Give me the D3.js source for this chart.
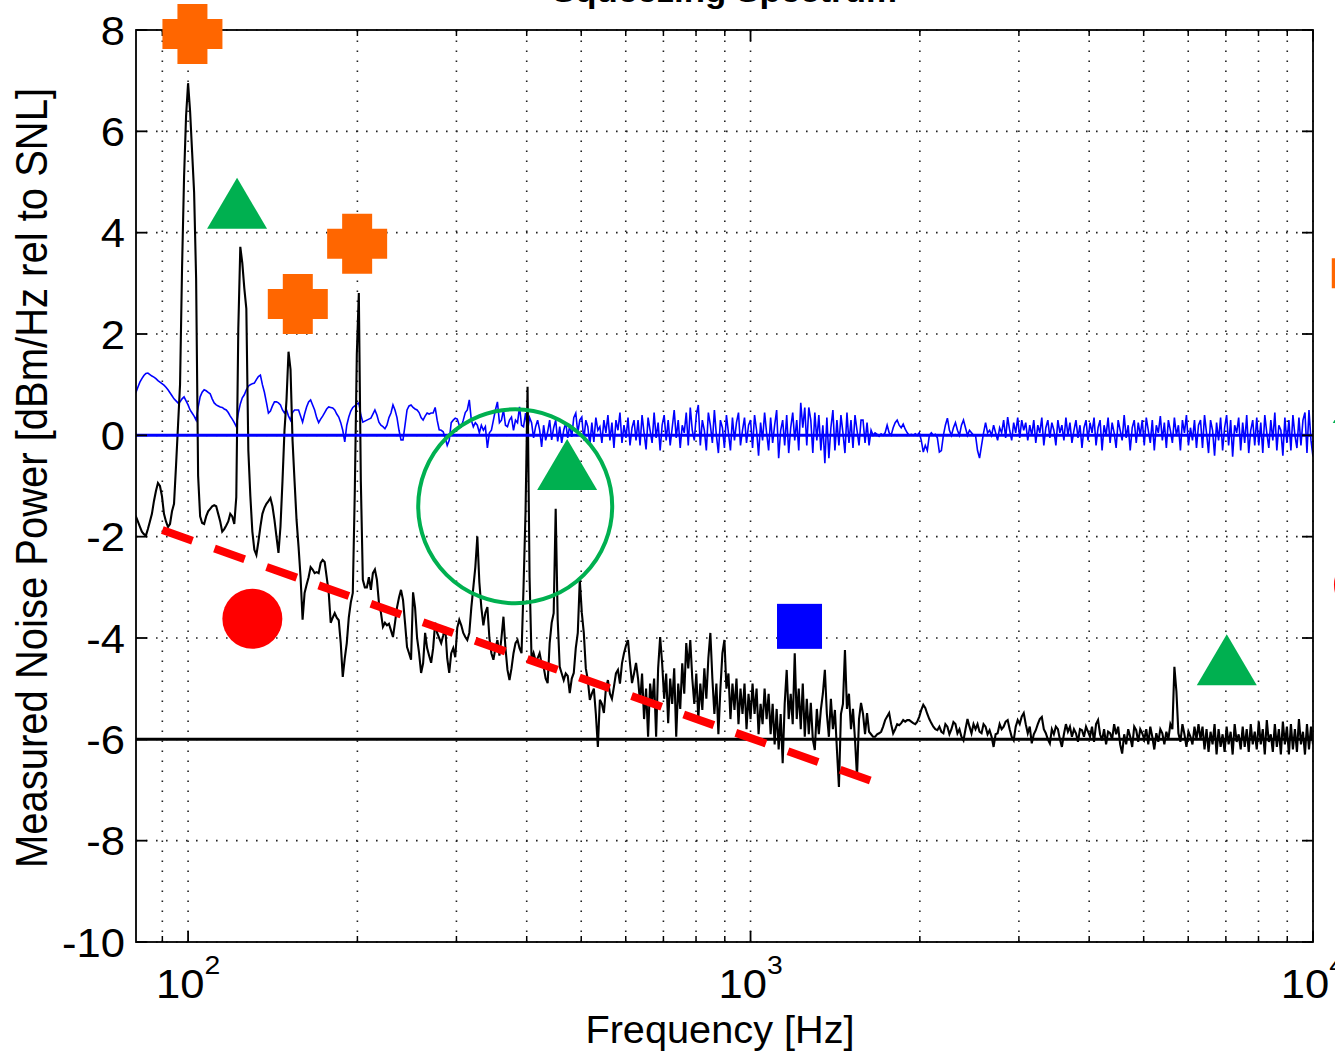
<!DOCTYPE html>
<html><head><meta charset="utf-8">
<script src="https://cdn.jsdelivr.net/npm/d3@7"></script>
<style>html,body{margin:0;padding:0;background:#fff;overflow:hidden}</style>
</head><body>
<svg id="chart" width="1335" height="1055"></svg>
<script>
// ---------------- DATA ----------------
// Frequency grid of the traces: log-spaced bins starting at 10^1.9 Hz, 280 bins per decade
const gridStartLog10 = 1.9;
const binsPerDecade = 280;

// Squeezed noise trace (black), dB rel. to SNL, one row = 0.1 decade
const blackDb = [
 -1.6,-1.6,-1.6,-1.7,-1.8,-1.9,-1.95,-1.98,-1.85,-1.7,-1.55,-1.3,-1.1,-0.94,-1.0,-1.2,-1.55,-1.7,-1.81,-1.75,-1.5,-1.35,-0.6,0.2,1.0,3.3,5.1,6.3,
 6.95,6.4,5.6,4.8,3.1,-0.8,-1.6,-1.73,-1.75,-1.6,-1.5,-1.45,-1.4,-1.38,-1.4,-1.55,-1.7,-1.9,-1.85,-1.78,-1.7,-1.55,-1.6,-1.75,-1.22,2.1,3.72,3.4,
 2.9,2.5,-0.3,-1.2,-1.9,-2.26,-2.36,-2.1,-1.8,-1.55,-1.43,-1.35,-1.3,-1.24,-1.4,-1.67,-2.0,-2.32,-1.8,-0.9,0.1,0.7,1.65,1.3,-0.1,-0.9,-1.67,-2.2,
 -2.8,-3.64,-3.11,-2.95,-2.8,-2.6,-2.65,-2.72,-2.7,-2.72,-2.52,-2.46,-2.5,-2.8,-3.1,-3.7,-3.6,-3.51,-3.6,-3.65,-4.1,-4.77,-4.4,-4.1,-3.6,-3.3,-3.11,-1.1,
 1.6,2.81,-0.9,-2.85,-3.0,-3.0,-2.8,-3.05,-2.72,-2.65,-2.85,-3.3,-3.5,-3.78,-3.7,-3.75,-3.72,-3.85,-3.98,-3.7,-3.4,-3.2,-3.05,-3.25,-3.7,-4.18,-4.3,-4.43,
 -3.1,-3.4,-4.0,-4.3,-4.69,-4.5,-3.9,-4.2,-4.35,-4.49,-4.2,-3.7,-3.9,-4.0,-4.1,-3.95,-3.78,-4.4,-4.69,-4.3,-4.2,-4.38,-3.8,-3.64,-3.75,-3.9,-3.98,-4.04,
 -3.9,-3.4,-3.0,-2.6,-2.0,-2.9,-3.4,-3.75,-3.5,-3.39,-4.0,-4.3,-4.43,-4.2,-4.04,-4.35,-4.0,-3.58,-4.2,-4.63,-4.83,-4.6,-4.3,-4.1,-4.04,-4.2,-4.3,-2.99,
 -1.5,0.96,-2.8,-4.43,-4.3,-4.45,-4.4,-4.3,-4.5,-4.57,-4.8,-4.89,-4.1,-3.7,-3.51,-1.45,-3.64,-4.57,-4.7,-4.83,-4.7,-4.75,-5.09,-4.8,-4.69,-4.2,-3.9,-2.85,
 -3.5,-3.9,-4.6,-4.83,-5.22,-5.1,-5.0,-5.5,-6.15,-5.22,-5.3,-5.48,-5.0,-4.83,-5.1,-5.2,-4.96,-4.7,-4.63,-4.9,-4.5,-4.3,-4.15,-4.04,-4.5,-4.89,-4.7,-4.49,
 -4.8,-5.28,-4.7,-5.6,-5.0,-5.95,-4.9,-5.3,-4.8,-5.95,-4.6,-3.98,-4.5,-5.2,-4.7,-5.68,-4.8,-5.3,-4.6,-5.95,-4.9,-5.4,-4.5,-5.1,-4.1,-4.6,-4.04,-4.8,
 -5.3,-4.7,-5.6,-4.9,-5.42,-4.6,-5.2,-4.4,-3.9,-4.8,-5.5,-4.9,-5.9,-5.0,-4.3,-4.04,-5.0,-4.7,-5.6,-4.9,-5.42,-4.8,-5.7,-5.0,-5.5,-4.9,-5.8,-5.1,
 -5.6,-4.9,-5.5,-5.0,-5.9,-5.3,-5.7,-5.0,-5.6,-5.1,-5.9,-5.3,-6.1,-5.4,-6.2,-5.5,-6.47,-5.3,-4.63,-5.6,-5.1,-5.7,-4.3,-5.6,-5.0,-5.8,-4.9,-5.95,
 -5.2,-5.9,-5.28,-6.0,-6.21,-5.4,-5.9,-5.42,-5.1,-4.63,-5.5,-5.95,-5.2,-5.8,-5.42,-6.2,-6.94,-5.5,-5.3,-4.24,-5.4,-5.1,-5.8,-5.4,-6.0,-6.74,-5.6,-5.28,
 -5.5,-5.9,-5.48,-5.85,-5.9,-5.95,-5.95,-5.9,-5.88,-5.85,-5.75,-5.62,-5.55,-5.48,-5.7,-5.88,-5.8,-5.7,-5.72,-5.68,-5.62,-5.65,-5.62,-5.62,-5.65,-5.68,-5.7,-5.65,
 -5.55,-5.42,-5.32,-5.38,-5.5,-5.6,-5.68,-5.75,-5.8,-5.82,-5.75,-5.85,-5.88,-5.7,-5.75,-5.9,-5.8,-5.66,-5.7,-5.88,-5.8,-5.95,-6.02,-5.8,-5.6,-5.75,-5.88,-5.7,
 -5.8,-5.7,-5.85,-5.88,-5.7,-5.75,-5.9,-5.82,-5.95,-6.15,-5.9,-5.88,-5.7,-5.8,-5.75,-5.65,-5.62,-5.8,-5.95,-6.02,-5.75,-5.62,-5.7,-5.55,-5.48,-5.7,-5.88,-5.75,
 -6.08,-5.9,-5.82,-5.7,-5.6,-5.56,-5.8,-5.88,-6.0,-6.08,-5.8,-5.9,-5.75,-5.8,-6.0,-6.15,-5.9,-5.7,-5.85,-5.75,-5.95,-5.8,-5.88,-6.05,-5.8,-5.82,-5.95,-5.75,
 -5.85,-5.95,-5.75,-6.05,-5.7,-5.62,-5.9,-6.02,-5.8,-6.1,-5.85,-5.88,-6.0,-5.7,-5.9,-5.75,-6.1,-6.28,-5.9,-6.1,-5.8,-5.95,-6.15,-5.75,-5.82,-6.05,-5.8,-5.88,
 -6.0,-5.8,-6.1,-5.75,-5.95,-6.2,-5.88,-6.05,-5.8,-5.88,-6.1,-5.85,-6.0,-5.7,-5.8,-4.57,-5.05,-5.88,-6.05,-5.7,-5.9,-6.15,-5.85,-5.95,-6.1,-5.75,-6.0,-5.7,
 -6.0,-5.75,-6.2,-5.8,-6.25,-5.85,-6.1,-5.7,-6.3,-5.8,-6.15,-5.9,-6.25,-5.75,-6.1,-5.85,-6.3,-5.7,-6.05,-5.9,-6.2,-5.75,-6.15,-5.8,-6.25,-5.7,-6.1,-5.85,
 -6.2,-5.65,-6.1,-5.8,-6.3,-5.62,-6.05,-5.9,-6.25,-5.7,-6.15,-5.8,-6.3,-5.65,-6.1,-5.75,-6.3,-5.7,-6.2,-5.8,-6.25,-5.6,-6.1,-5.85,-6.3,-5.7,-6.2,-5.75,
 -6.1
];

// Anti-squeezing / shot-noise reference trace (blue)
const blueDb = [
 0.8,0.82,0.84,0.95,1.05,1.12,1.18,1.22,1.23,1.2,1.17,1.15,1.12,1.08,1.05,1.02,0.99,0.95,0.9,0.84,0.78,0.72,0.68,0.64,0.66,0.72,0.76,0.68,
 0.6,0.5,0.44,0.38,0.3,0.55,0.76,0.85,0.9,0.88,0.85,0.82,0.72,0.64,0.6,0.58,0.56,0.55,0.52,0.5,0.45,0.38,0.32,0.25,0.17,0.44,0.62,0.74,
 0.8,0.9,0.97,1.0,1.02,1.03,1.1,1.16,1.19,1.0,0.85,0.65,0.44,0.48,0.58,0.66,0.66,0.64,0.6,0.5,0.44,0.5,0.38,0.3,0.45,0.5,0.5,0.5,
 0.38,0.26,0.42,0.56,0.66,0.7,0.6,0.5,0.35,0.25,0.32,0.38,0.45,0.52,0.56,0.55,0.54,0.5,0.42,0.36,0.25,0.1,-0.13,0.2,0.36,0.48,0.55,0.58,
 0.62,0.64,0.4,0.26,0.28,0.3,0.32,0.34,0.42,0.5,0.4,0.26,0.2,0.17,0.13,0.2,0.35,0.44,0.6,0.5,0.35,0.1,-0.09,-0.09,0.2,0.5,0.58,0.6,
 0.55,0.52,0.5,0.45,0.35,0.3,0.38,0.44,0.42,0.44,0.44,0.55,0.3,0.11,0.1,0.07,-0.05,-0.2,-0.1,0.25,0.3,0.34,0.32,0.2,0.17,0.3,0.45,0.5,
 0.7,0.3,0.17,0.25,0.2,0.05,0.2,0.1,0.17,-0.25,0.05,0.1,0.3,0.5,0.66,0.25,0.3,0.5,0.2,0.17,0.3,0.36,0.1,0.3,0.25,0.56,0.2,0.17,
 0.44,0.1,0.35,0.25,-0.05,0.17,0.3,0.11,-0.23,0.2,-0.1,0.07,0.3,-0.09,0.15,0.3,-0.12,0.17,-0.15,0.1,0.25,-0.05,0.2,-0.03,0.35,0.44,0.05,0.3,
 0.36,-0.1,0.3,0.17,-0.2,0.25,-0.13,0.35,0.1,0.17,-0.15,0.3,0.05,0.4,-0.1,0.25,-0.25,0.3,0.1,0.45,-0.15,0.2,-0.05,0.35,-0.2,0.15,0.3,-0.1,
 0.3,-0.2,0.4,0.05,-0.28,0.35,0.1,-0.15,0.45,-0.05,0.25,-0.3,0.2,0.4,-0.1,0.3,-0.2,0.15,0.5,-0.05,0.3,-0.25,0.2,0.05,0.45,-0.2,0.55,0.1,
 -0.1,0.4,0.6,-0.2,0.3,0.1,-0.3,0.45,0.2,-0.15,0.5,0.0,-0.35,0.3,0.15,-0.25,0.4,0.05,-0.3,0.35,-0.1,0.25,0.45,-0.2,0.1,0.35,-0.15,0.2,
 0.3,-0.25,0.4,0.1,-0.4,0.25,-0.1,0.45,0.05,-0.3,0.35,-0.15,0.2,0.5,-0.45,0.1,0.3,-0.2,0.4,-0.35,0.15,0.45,-0.1,0.3,-0.3,0.64,0.15,0.55,
 -0.2,0.55,0.3,-0.35,0.45,-0.1,0.4,-0.3,0.2,-0.55,0.35,-0.45,0.15,0.5,-0.3,0.3,-0.2,0.4,0.05,-0.35,0.45,-0.15,0.3,-0.25,0.4,0.1,-0.2,0.3,
 0.3,-0.15,0.25,-0.2,0.1,0.0,0.05,0.02,-0.02,0.03,0.0,0.05,0.2,0.05,0.0,0.15,0.25,0.3,0.2,0.15,0.22,0.12,0.05,0.0,0.02,0.0,0.03,0.0,
 0.05,-0.1,-0.33,-0.2,-0.3,0.0,0.05,0.0,0.02,-0.05,-0.33,-0.3,0.0,0.2,0.34,0.1,0.0,0.15,0.25,0.1,0.0,0.2,0.3,0.15,0.0,0.1,0.05,0.0,
 0.0,-0.3,-0.45,-0.2,0.05,0.25,0.05,0.1,0.0,0.2,0.05,-0.1,0.15,0.05,0.3,-0.05,0.36,0.1,-0.1,0.25,0.05,0.35,-0.05,0.3,0.1,0.25,-0.1,0.2,
 0.0,0.3,-0.15,0.2,0.05,0.35,-0.2,0.15,0.3,-0.05,0.25,0.1,-0.2,0.3,0.05,0.2,-0.1,0.35,0.0,0.25,-0.15,0.1,0.3,-0.05,0.2,-0.25,0.15,0.3,
 -0.1,0.25,0.05,0.35,-0.2,0.15,0.3,-0.3,0.2,0.0,0.35,-0.15,0.25,0.05,-0.25,0.3,0.1,-0.1,0.4,-0.05,0.2,-0.3,0.15,0.3,-0.15,0.25,0.0,0.3,
 -0.2,0.35,0.1,-0.15,0.3,-0.3,0.2,0.05,0.38,-0.1,0.25,-0.25,0.3,0.1,-0.15,0.35,0.0,0.2,-0.3,0.3,0.05,0.4,-0.2,0.15,-0.1,0.3,-0.25,0.2,
 0.3,-0.25,0.4,0.05,-0.35,0.3,0.1,-0.4,0.25,-0.1,0.35,-0.3,0.15,0.4,-0.2,0.3,-0.42,0.2,0.05,0.35,-0.3,0.25,-0.15,0.4,-0.35,0.1,0.3,-0.2,
 0.35,-0.2,0.25,-0.35,0.4,0.05,-0.25,0.3,-0.1,0.45,-0.3,0.2,0.1,-0.4,0.35,-0.15,0.3,-0.3,0.4,0.0,-0.25,0.35,-0.2,0.3,0.45,-0.35,0.5,-0.1,
 -0.42
];

// Reference levels
const snlLevel = 0;       // blue horizontal line
const squeezeLevel = -6;  // black horizontal line

// Axes
const xDomain = [80.8, 10000];
const yDomain = [-10, 8];
const xMajorTicks = [100, 1000, 10000];
const xMajorExponents = ["2", "3", "4"];
const xMinorTicks = [90, 200, 300, 400, 500, 600, 700, 800, 900, 2000, 3000, 4000, 5000, 6000, 7000, 8000, 9000];
const yTicks = [-10, -8, -6, -4, -2, 0, 2, 4, 6, 8];
const titleText = "Squeezing Spectrum";
const xLabelText = "Frequency [Hz]";
const yLabelText = "Measured Noise Power [dBm/Hz rel to SNL]";

// Annotation markers [frequency Hz, dB]
const crossMarks = [[101.8, 7.92], [156.7, 2.59], [199.8, 3.78], [12210, 3.2]];
const triangleMarks = [[122.2, 4.58], [472, -0.575], [7026, -4.43], [12260, 0.747]];
const circleMarks = [[130.1, -3.62], [12320, -2.95]];
const squareMarks = [[1222, -3.77]];
const ringMarks = [[381.6, -1.40]];
const trendLine = [[90, -1.87], [1700, -6.88]];

// ---------------- DRAW ----------------
const W = 1335, H = 1055;
const plot = {left: 136, right: 1313, top: 30, bottom: 942};
const svg = d3.select("#chart");
const FONT = "'Liberation Sans', Arial, Helvetica, sans-serif";
const SX = 1.09; // horizontal stretch of the original figure text

const x = d3.scaleLog().domain(xDomain).range([plot.left, plot.right]);
const y = d3.scaleLinear().domain(yDomain).range([plot.bottom, plot.top]);
const freqOf = i => Math.pow(10, gridStartLog10 + i / binsPerDecade);

svg.append("rect").attr("width", W).attr("height", H).attr("fill", "#fff");

svg.append("defs").append("clipPath").attr("id", "plotclip")
  .append("rect").attr("x", plot.left).attr("y", plot.top)
  .attr("width", plot.right - plot.left).attr("height", plot.bottom - plot.top);

// grid
const grid = svg.append("g").attr("stroke", "#222").attr("stroke-width", 1.6)
  .attr("stroke-dasharray", "1.6 8.4").attr("fill", "none");
xMinorTicks.concat(xMajorTicks).forEach(t => {
  grid.append("line").attr("x1", x(t)).attr("x2", x(t))
    .attr("y1", plot.bottom).attr("y2", plot.top);
});
yTicks.forEach(t => {
  grid.append("line").attr("x1", plot.left).attr("x2", plot.right)
    .attr("y1", y(t)).attr("y2", y(t));
});

// traces
const dataG = svg.append("g").attr("clip-path", "url(#plotclip)");
const lineGen = d3.line().x((d, i) => x(freqOf(i))).y(d => y(d));
dataG.append("path").datum(blueDb).attr("d", lineGen)
  .attr("fill", "none").attr("stroke", "#0000ff").attr("stroke-width", 1.6)
  .attr("stroke-linejoin", "miter");
dataG.append("path").datum(blackDb).attr("d", lineGen)
  .attr("fill", "none").attr("stroke", "#000").attr("stroke-width", 2.1)
  .attr("stroke-linejoin", "miter");
dataG.append("line").attr("x1", plot.left).attr("x2", plot.right)
  .attr("y1", y(snlLevel)).attr("y2", y(snlLevel))
  .attr("stroke", "#0000ff").attr("stroke-width", 3);
dataG.append("line").attr("x1", plot.left).attr("x2", plot.right)
  .attr("y1", y(squeezeLevel)).attr("y2", y(squeezeLevel))
  .attr("stroke", "#000").attr("stroke-width", 3);

// frame & ticks
const axG = svg.append("g").attr("stroke", "#000").attr("fill", "none");
axG.append("rect").attr("x", plot.left).attr("y", plot.top)
  .attr("width", plot.right - plot.left).attr("height", plot.bottom - plot.top)
  .attr("stroke-width", 1.8);
const tick = (x1, y1, x2, y2, w) => axG.append("line")
  .attr("x1", x1).attr("y1", y1).attr("x2", x2).attr("y2", y2).attr("stroke-width", w);
xMajorTicks.forEach(t => {
  tick(x(t), plot.bottom, x(t), plot.bottom - 11, 1.8);
  tick(x(t), plot.top, x(t), plot.top + 11, 1.8);
});
xMinorTicks.forEach(t => {
  tick(x(t), plot.bottom, x(t), plot.bottom - 6, 1.5);
  tick(x(t), plot.top, x(t), plot.top + 6, 1.5);
});
yTicks.forEach(t => {
  tick(plot.left, y(t), plot.left + 11, y(t), 1.8);
  tick(plot.right, y(t), plot.right - 11, y(t), 1.8);
});

// text helper with horizontal stretch
function stext(px, py, str, size, anchor, weight) {
  return svg.append("text")
    .attr("transform", `translate(${px},${py}) scale(${SX},1)`)
    .attr("text-anchor", anchor).attr("font-family", FONT)
    .attr("font-size", size).attr("font-weight", weight || "normal")
    .attr("fill", "#000").text(str);
}

// y tick labels
yTicks.forEach(t => {
  stext(125, y(t) + 14.5, String(t), 40, "end");
});
// x tick labels (10^n)
xMajorTicks.forEach((t, k) => {
  const tx = svg.append("text")
    .attr("transform", `translate(${x(t)},998) scale(${SX},1)`)
    .attr("text-anchor", "middle").attr("font-family", FONT)
    .attr("font-size", 40).attr("fill", "#000");
  tx.append("tspan").text("10");
  tx.append("tspan").attr("dy", -24).attr("font-size", 26).text(xMajorExponents[k]);
});

// title (mostly cut off at top, as in the source)
stext((plot.left + plot.right) / 2, 2, titleText, 32, "middle", "bold");
// x label
svg.append("text")
  .attr("transform", `translate(720,1043) scale(1.045,1)`)
  .attr("text-anchor", "middle").attr("font-family", FONT)
  .attr("font-size", 38).attr("fill", "#000").text(xLabelText);
// y label
svg.append("text")
  .attr("transform", `translate(47,478) scale(${SX},1) rotate(-90)`)
  .attr("text-anchor", "middle").attr("font-family", FONT)
  .attr("font-size", 40).attr("fill", "#000").text(yLabelText);

// annotations
const ann = svg.append("g");
ann.append("line")
  .attr("x1", x(trendLine[0][0])).attr("y1", y(trendLine[0][1]))
  .attr("x2", x(trendLine[1][0])).attr("y2", y(trendLine[1][1]))
  .attr("stroke", "#ff0000").attr("stroke-width", 8)
  .attr("stroke-dasharray", "32 23.3");
ann.selectAll("circle.ring").data(ringMarks).join("circle").attr("class", "ring")
  .attr("cx", d => x(d[0])).attr("cy", d => y(d[1])).attr("r", 97)
  .attr("fill", "none").attr("stroke", "#00b050").attr("stroke-width", 4);
const crossPath = (cx, cy) => {
  const a = 30, b = 15, p = d3.path();
  p.moveTo(cx - b, cy - a); p.lineTo(cx + b, cy - a); p.lineTo(cx + b, cy - b);
  p.lineTo(cx + a, cy - b); p.lineTo(cx + a, cy + b); p.lineTo(cx + b, cy + b);
  p.lineTo(cx + b, cy + a); p.lineTo(cx - b, cy + a); p.lineTo(cx - b, cy + b);
  p.lineTo(cx - a, cy + b); p.lineTo(cx - a, cy - b); p.lineTo(cx - b, cy - b);
  p.closePath(); return p.toString();
};
ann.selectAll("path.cross").data(crossMarks).join("path").attr("class", "cross")
  .attr("d", d => crossPath(x(d[0]), y(d[1]))).attr("fill", "#ff6600");
const triPath = (cx, cy) => {
  const p = d3.path();
  p.moveTo(cx, cy - 25.5); p.lineTo(cx + 30, cy + 25.5); p.lineTo(cx - 30, cy + 25.5);
  p.closePath(); return p.toString();
};
ann.selectAll("path.tri").data(triangleMarks).join("path").attr("class", "tri")
  .attr("d", d => triPath(x(d[0]), y(d[1]))).attr("fill", "#00b050");
ann.selectAll("circle.dot").data(circleMarks).join("circle").attr("class", "dot")
  .attr("cx", d => x(d[0])).attr("cy", d => y(d[1])).attr("r", 30).attr("fill", "#ff0000");
ann.selectAll("rect.sq").data(squareMarks).join("rect").attr("class", "sq")
  .attr("x", d => x(d[0]) - 22.5).attr("y", d => y(d[1]) - 22.5)
  .attr("width", 45).attr("height", 45).attr("fill", "#0000ff");
</script>
</body></html>
